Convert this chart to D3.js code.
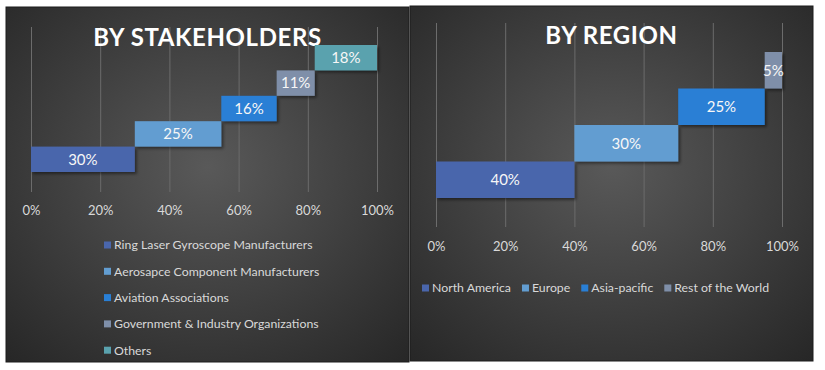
<!DOCTYPE html>
<html>
<head>
<meta charset="utf-8">
<script src="https://cdn.jsdelivr.net/npm/d3@7"></script>
<style>
body { margin: 0; background: #fff; }
svg { display: block; font-family: Lato, "Open Sans", sans-serif; }
</style>
</head>
<body>
<div id="chart"></div>
<script>
// stakeholders
var stakeCats = ["Ring Laser Gyroscope Manufacturers", "Aerosapce Component Manufacturers",
    "Aviation Associations", "Government & Industry Organizations", "Others"];
var stakeVals = [0.30, 0.25, 0.16, 0.11, 0.18];

// regions
var regionCats = ["North America", "Europe", "Asia-pacific", "Rest of the World"];
var regionVals = [0.40, 0.30, 0.25, 0.05];

var tickVals = [0, 0.2, 0.4, 0.6, 0.8, 1];
var colors = ["#4A66AC", "#629DD1", "#297FD5", "#7F8FA9", "#5AA2AE"];

var w = 825, h = 370;
var svg = d3.select("#chart").append("svg")
    .attr("width", w)
    .attr("height", h);

var defs = svg.append("defs");
var grad = defs.append("radialGradient")
    .attr("id", "bg")
    .attr("cx", "50%").attr("cy", "45%").attr("r", "75%");
grad.append("stop").attr("offset", "0%").attr("stop-color", "#595959");
grad.append("stop").attr("offset", "100%").attr("stop-color", "#262626");

var shadow = defs.append("filter").attr("id", "shadow")
    .attr("x", "-10%").attr("y", "-20%").attr("width", "130%").attr("height", "160%");
shadow.append("feDropShadow")
    .attr("dx", 2).attr("dy", 2).attr("stdDeviation", 1.5)
    .attr("flood-color", "#000").attr("flood-opacity", 0.45);

function panel(opt) {
    var g = svg.append("g");

    g.append("rect")
        .attr("x", opt.box[0]).attr("y", opt.box[1])
        .attr("width", opt.box[2]).attr("height", opt.box[3])
        .attr("fill", "url(#bg)")
        .attr("stroke", "#1c1c1c")
        .attr("stroke-width", 1);

    var x = d3.scaleLinear().domain([0, 1]).range(opt.xr);
    var y = d3.scaleBand().domain(opt.cats).range(opt.yr).padding(0);

    // gridlines + tick labels
    var axis = d3.axisBottom(x)
        .tickValues(tickVals)
        .tickFormat(d3.format(".0%"))
        .tickSizeInner(-(opt.gridBottom - opt.gridTop))
        .tickSizeOuter(0);
    var ax = g.append("g")
        .attr("transform", "translate(0," + opt.gridBottom + ")")
        .call(axis);
    ax.select(".domain").remove();
    ax.selectAll(".tick line").attr("stroke", "#6c6c6c").attr("stroke-width", 1);
    ax.selectAll(".tick text")
        .attr("fill", "#d9d9d9")
        .attr("font-size", "13px")
        .attr("font-family", "Lato, sans-serif")
        .attr("y", opt.tickY - opt.gridBottom)
        .attr("dy", "0.35em");

    // title
    g.append("text")
        .attr("x", opt.box[0] + opt.box[2] / 2)
        .attr("y", opt.titleY)
        .attr("text-anchor", "middle")
        .attr("fill", "#ffffff")
        .attr("font-size", "24px")
        .attr("font-weight", "bold")
        .attr("letter-spacing", "0.6px")
        .text(opt.title);

    var starts = [0].concat(Array.from(d3.cumsum(opt.vals))).slice(0, opt.vals.length);
    var data = opt.cats.map(function(c, i) {
        return { cat: c, v: opt.vals[i], s: starts[i], color: colors[i] };
    });

    g.selectAll(".bar")
        .data(data)
        .enter()
        .append("rect")
        .attr("class", "bar")
        .attr("x", function(d) { return x(d.s); })
        .attr("y", function(d) { return y(d.cat); })
        .attr("width", function(d) { return x(d.s + d.v) - x(d.s); })
        .attr("height", y.bandwidth())
        .attr("fill", function(d) { return d.color; })
        .attr("filter", "url(#shadow)");

    g.selectAll(".lbl")
        .data(data)
        .enter()
        .append("text")
        .attr("class", "lbl")
        .attr("x", function(d) { return x(d.s + d.v / 2); })
        .attr("y", function(d) { return y(d.cat) + y.bandwidth() / 2; })
        .attr("dy", "0.35em")
        .attr("text-anchor", "middle")
        .attr("fill", "#f7f7f7")
        .attr("font-size", "15px")
        .text(function(d) { return Math.round(d.v * 100) + "%"; });

    return { g: g, data: data };
}

var left = panel({
    box: [6, 7, 403, 355],
    cats: stakeCats, vals: stakeVals,
    xr: [31, 377], yr: [172, 45],
    gridTop: 27, gridBottom: 192, tickY: 210,
    title: "BY STAKEHOLDERS", titleY: 46
});

var right = panel({
    box: [410, 6, 403, 355],
    cats: regionCats, vals: regionVals,
    xr: [436, 782], yr: [198, 52],
    gridTop: 23, gridBottom: 227, tickY: 246,
    title: "BY REGION", titleY: 44
});

// left legend, stacked
var lg = left.g.selectAll(".leg")
    .data(left.data)
    .enter()
    .append("g")
    .attr("class", "leg")
    .attr("transform", function(d, i) { return "translate(104," + (245 + i * 26.3) + ")"; });
lg.append("rect")
    .attr("x", 0).attr("y", -3.5).attr("width", 7).attr("height", 7)
    .attr("fill", function(d) { return d.color; });
lg.append("text")
    .attr("x", 10).attr("dy", "0.35em")
    .attr("fill", "#d9d9d9")
    .attr("font-size", "12.3px")
    .text(function(d) { return d.cat; });

// right legend, one row
var rx = 422;
right.data.forEach(function(d) {
    var it = right.g.append("g").attr("transform", "translate(" + rx + ",288)");
    it.append("rect")
        .attr("x", 0).attr("y", -3.5).attr("width", 7).attr("height", 7)
        .attr("fill", d.color);
    var t = it.append("text")
        .attr("x", 10).attr("dy", "0.35em")
        .attr("fill", "#d9d9d9")
        .attr("font-size", "12.3px")
        .text(d.cat);
    rx += 10 + t.node().getComputedTextLength() + 11;
});
</script>
</body>
</html>
